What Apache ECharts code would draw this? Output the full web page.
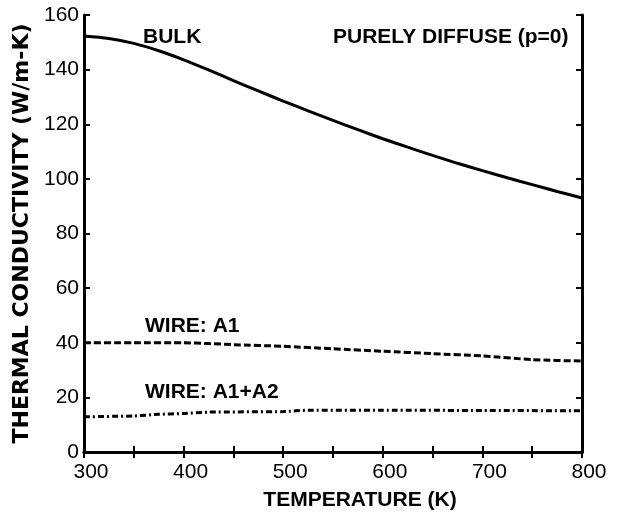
<!doctype html>
<html lang="en">
<head>
    <meta charset="UTF-8">
    <title>Thermal conductivity vs temperature</title>
    <script src="https://cdn.jsdelivr.net/npm/echarts@6/dist/echarts.min.js"></script>
    <style>
        html, body { margin: 0; padding: 0; background: #fff; }
        #chart { width: 618px; height: 516px; }
    </style>
</head>
<body>
<div id="chart"></div>
<script type="text/javascript">
    // data
    var bulkT = [300, 325, 350, 375, 400, 425, 450, 475, 500, 525, 550, 575, 600, 625, 650, 675, 700, 725, 750, 775, 800];
    var bulkK = [152.3, 151.4, 149.6, 146.9, 143.6, 139.9, 136, 132.2, 128.5, 124.9, 121.4, 118, 114.7, 111.6, 108.6, 105.7, 103, 100.4, 97.9, 95.4, 93];

    var a1T = [300, 350, 400, 425, 450, 500, 550, 600, 650, 700, 750, 800];
    var a1K = [40, 40, 40, 39.7, 39.3, 38.7, 37.8, 36.9, 36, 35.2, 33.8, 33.3];

    var a12T = [300, 350, 375, 400, 425, 500, 525, 600, 700, 800];
    var a12K = [12.9, 13.2, 13.8, 14.1, 14.6, 14.8, 15.3, 15.3, 15.2, 15.1];

    var xTicks = [300, 400, 500, 600, 700, 800];
    var yTicks = [0, 20, 40, 60, 80, 100, 120, 140, 160];

    var pair = function (xs, ys) {
        return xs.map(function (x, i) { return [x, ys[i]]; });
    };

    var FONT = '"Liberation Sans", Arial, sans-serif';
    var BLACK = '#000';

    var myChart = echarts.init(document.getElementById('chart'), null, {renderer: 'canvas'});

    var axisCommon = {
        axisLine: {show: true, lineStyle: {color: BLACK, width: 3}},
        axisTick: {show: true, inside: true, length: 6, lineStyle: {color: BLACK, width: 2}},
        splitLine: {show: false}
    };

    var option = {
        animation: false,
        backgroundColor: '#fff',
        grid: {left: 84, right: 36, top: 15, bottom: 63},
        xAxis: [
            Object.assign({
                type: 'value', position: 'bottom', min: 300, max: 800, interval: 50,
                axisLabel: {
                    color: BLACK, fontSize: 21, fontFamily: FONT, margin: 10,
                    padding: [0, 0, 0, 14],
                    formatter: function (v) { return xTicks.indexOf(v) >= 0 ? String(v) : ''; }
                },
                name: 'TEMPERATURE (K)', nameLocation: 'middle', nameGap: 38,
                nameTextStyle: {color: BLACK, fontSize: 21, fontWeight: 'bold', fontFamily: FONT, padding: [0, 0, 0, 54]}
            }, axisCommon),
            Object.assign({
                type: 'value', position: 'top', min: 300, max: 800, interval: 50,
                axisLabel: {show: false}
            }, axisCommon)
        ],
        yAxis: [
            Object.assign({
                type: 'value', position: 'left', min: 0, max: 160, interval: 20,
                axisLabel: {
                    color: BLACK, fontSize: 21, fontFamily: FONT, margin: 5,
                    padding: [6, 0, 0, 0],
                    formatter: function (v) { return yTicks.indexOf(v) >= 0 ? String(v) : ''; }
                },
                name: 'THERMAL CONDUCTIVITY (W/m-K)', nameLocation: 'middle', nameGap: 51,
                nameTextStyle: {color: BLACK, fontSize: 22, fontWeight: 'bold', fontFamily: '"DejaVu Sans", sans-serif'}
            }, axisCommon),
            Object.assign({
                type: 'value', position: 'right', min: 0, max: 160, interval: 20,
                axisLabel: {show: false}
            }, axisCommon)
        ],
        series: [
            {
                name: 'BULK', type: 'line', data: pair(bulkT, bulkK),
                showSymbol: false, smooth: 0.3,
                lineStyle: {color: BLACK, width: 3}
            },
            {
                name: 'WIRE: A1', type: 'line', data: pair(a1T, a1K),
                showSymbol: false, smooth: 0.2,
                lineStyle: {color: BLACK, width: 3, type: [7, 3]}
            },
            {
                name: 'WIRE: A1+A2', type: 'line', data: pair(a12T, a12K),
                showSymbol: false, smooth: 0.2,
                lineStyle: {color: BLACK, width: 3, type: [6, 3, 2, 3]}
            }
        ],
        graphic: [
            {type: 'text', left: 143, top: 27, style: {text: 'BULK', font: 'bold 21px ' + FONT, fill: BLACK}},
            {type: 'text', left: 333, top: 27, style: {text: 'PURELY DIFFUSE (p=0)', font: 'bold 21px ' + FONT, fill: BLACK}},
            {type: 'text', left: 145, top: 316, style: {text: 'WIRE: A1', font: 'bold 21px ' + FONT, fill: BLACK}},
            {type: 'text', left: 145, top: 382, style: {text: 'WIRE: A1+A2', font: 'bold 21px ' + FONT, fill: BLACK}}
        ]
    };

    myChart.setOption(option);
</script>
</body>
</html>
